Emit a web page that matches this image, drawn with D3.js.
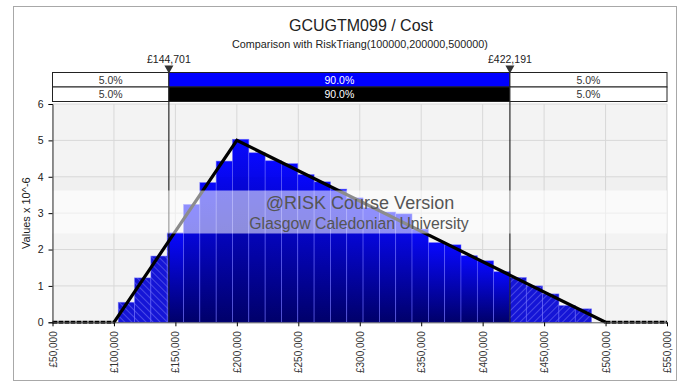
<!DOCTYPE html>
<html>
<head>
<meta charset="utf-8">
<script src="https://cdn.jsdelivr.net/npm/d3@7/dist/d3.min.js"></script>
<style>
  body { margin: 0; background: #fff; }
  svg text { font-family: "Liberation Sans", Arial, sans-serif; fill: #222; }
</style>
</head>
<body>
<script>
// simulated histogram (density x 10^-6), bins start at binStart, width binWidth
var binStart = 103500;
var binWidth = 13280;
var density = [0.55, 1.22, 1.82, 2.46, 3.24, 3.84, 4.43, 5.03, 4.66, 4.44,
               4.36, 4.06, 3.86, 3.66, 3.42, 3.15, 3.03, 2.98, 2.56, 2.19,
               2.13, 1.83, 1.69, 1.39, 1.23, 1.00, 0.78, 0.46, 0.37];

// RiskTriang(100000,200000,500000) pdf, x 10^-6
var triX = [50000, 100000, 200000, 500000, 550000];
var triY = [0, 0, 5, 0, 0];

var pLeft = 144701;
var pRight = 422191;
var simPct = ["5.0%", "90.0%", "5.0%"];
var triPct = ["5.0%", "90.0%", "5.0%"];

var xTicks = [50000, 100000, 150000, 200000, 250000, 300000, 350000, 400000, 450000, 500000, 550000];
var yTicks = [0, 1, 2, 3, 4, 5, 6];

var W = 682, H = 392;
var pL = 52.5, pR = 667, pT = 104, pB = 322.3;

var svg = d3.select("body").append("svg")
    .attr("width", W)
    .attr("height", H);

var x = d3.scaleLinear().domain([50000, 550000]).range([pL, pR]);
var y = d3.scaleLinear().domain([0, 6]).range([pB, pT]);
var fmt = function(v) { return "£" + d3.format(",")(v); };

// frame
svg.append("rect")
    .attr("x", 13.5).attr("y", 6.5)
    .attr("width", 663).attr("height", 374)
    .attr("fill", "#fff")
    .attr("stroke", "#a8a8a8");

// titles
svg.append("text")
    .attr("x", 361).attr("y", 31)
    .attr("text-anchor", "middle")
    .style("font-size", "16px")
    .text("GCUGTM099 / Cost");
svg.append("text")
    .attr("x", 360).attr("y", 47.5)
    .attr("text-anchor", "middle")
    .style("font-size", "10.8px")
    .text("Comparison with RiskTriang(100000,200000,500000)");

var defs = svg.append("defs");

var grad = defs.append("linearGradient")
    .attr("id", "barGrad")
    .attr("x1", 0).attr("y1", 0).attr("x2", 0).attr("y2", 1);
grad.append("stop").attr("offset", "0%").attr("stop-color", "#0808ff");
grad.append("stop").attr("offset", "100%").attr("stop-color", "#00006a");

function hatch(id, angle) {
    var p = defs.append("pattern")
        .attr("id", id)
        .attr("patternUnits", "userSpaceOnUse")
        .attr("width", 5).attr("height", 5)
        .attr("patternTransform", "rotate(" + angle + ")");
    p.append("rect").attr("width", 5).attr("height", 5).attr("fill", "#1515d6");
    p.append("line")
        .attr("x1", 0).attr("y1", 0).attr("x2", 0).attr("y2", 5)
        .attr("stroke", "#7a7af5")
        .attr("stroke-width", 1);
}
hatch("hatchL", -45);
hatch("hatchR", 45);

// plot background + grid
svg.append("rect")
    .attr("x", pL).attr("y", pT)
    .attr("width", pR - pL).attr("height", pB - pT)
    .attr("fill", "#f3f3f3");

svg.append("g").selectAll("line")
    .data(xTicks)
    .enter().append("line")
    .attr("x1", function(d) { return x(d); })
    .attr("x2", function(d) { return x(d); })
    .attr("y1", pT).attr("y2", pB)
    .attr("stroke", "#d8d8d8");
svg.append("g").selectAll("line")
    .data(yTicks.slice(1))
    .enter().append("line")
    .attr("x1", pL).attr("x2", pR)
    .attr("y1", function(d) { return y(d); })
    .attr("y2", function(d) { return y(d); })
    .attr("stroke", "#d8d8d8");

// histogram pieces, split at the delimiters
var pieces = [];
density.forEach(function(d, i) {
    var a = binStart + i * binWidth, b = a + binWidth;
    var parts = [[a, Math.min(b, pLeft), "url(#hatchL)"],
                 [Math.max(a, pLeft), Math.min(b, pRight), "url(#barGrad)"],
                 [Math.max(a, pRight), b, "url(#hatchR)"]];
    parts.forEach(function(p) {
        if (p[1] > p[0]) pieces.push({x0: p[0], x1: p[1], v: d, fill: p[2]});
    });
});

svg.append("g").selectAll("rect")
    .data(pieces)
    .enter().append("rect")
    .attr("x", function(d) { return x(d.x0); })
    .attr("width", function(d) { return x(d.x1) - x(d.x0); })
    .attr("y", function(d) { return y(d.v); })
    .attr("height", function(d) { return y(0) - y(d.v); })
    .attr("fill", function(d) { return d.fill; })
    .attr("stroke", "#6a6aff")
    .attr("stroke-opacity", 0.7)
    .attr("stroke-width", 0.7);

// theoretical curve
var tri = triX.map(function(v, i) { return [x(v), y(triY[i])]; });
var line = d3.line();
svg.append("path")
    .attr("d", line(tri.slice(1, 4)))
    .attr("fill", "none")
    .attr("stroke", "#000")
    .attr("stroke-width", 3.2)
    .attr("stroke-linejoin", "miter");
[tri.slice(0, 2), tri.slice(3, 5)].forEach(function(seg) {
    svg.append("path")
        .attr("d", line(seg))
        .attr("fill", "none")
        .attr("stroke", "#000")
        .attr("stroke-width", 3)
        .attr("stroke-dasharray", "5,1");
});

// delimiter lines
[pLeft, pRight].forEach(function(p) {
    svg.append("line")
        .attr("x1", x(p)).attr("x2", x(p))
        .attr("y1", 72.5).attr("y2", pB)
        .attr("stroke", "#000")
        .attr("stroke-width", 1);
});

// watermark band
svg.append("rect")
    .attr("x", pL).attr("y", 177)
    .attr("width", pR - pL).attr("height", 13.5)
    .attr("fill", "#000").attr("opacity", 0.012);
svg.append("rect")
    .attr("x", pL).attr("y", 190.5)
    .attr("width", pR - pL).attr("height", 43)
    .attr("fill", "#fff").attr("opacity", 0.55);
svg.append("text")
    .attr("x", 360).attr("y", 208.5)
    .attr("text-anchor", "middle")
    .style("font-size", "18px")
    .style("fill", "#555")
    .text("@RISK Course Version");
svg.append("text")
    .attr("x", 359).attr("y", 228.5)
    .attr("text-anchor", "middle")
    .style("font-size", "15.8px")
    .style("fill", "#555")
    .text("Glasgow Caledonian University");

// percentile bars
var bounds = [50000, pLeft, pRight, 550000];
function pctRow(y0, labels, midFill) {
    var g = svg.append("g");
    labels.forEach(function(t, i) {
        var x0 = x(bounds[i]), x1 = x(bounds[i + 1]);
        g.append("rect")
            .attr("x", x0).attr("y", y0)
            .attr("width", x1 - x0).attr("height", 14.5)
            .attr("fill", i == 1 ? midFill : "#fff")
            .attr("stroke", "#222")
            .attr("stroke-width", 1);
        g.append("text")
            .attr("x", (x0 + x1) / 2).attr("y", y0 + 11)
            .attr("text-anchor", "middle")
            .style("font-size", "10.5px")
            .style("fill", i == 1 ? "#fff" : "#333")
            .text(t);
    });
}
pctRow(72.5, simPct, "#0000ff");
pctRow(87, triPct, "#000");

// markers + labels
[pLeft, pRight].forEach(function(p) {
    var px = x(p);
    svg.append("path")
        .attr("d", "M" + (px - 4.5) + ",65.5L" + (px + 4.5) + ",65.5L" + px + ",73.5Z")
        .attr("fill", "#333");
    svg.append("text")
        .attr("x", px).attr("y", 62.5)
        .attr("text-anchor", "middle")
        .style("font-size", "10.5px")
        .text(fmt(p));
});

// axes
var yAxis = svg.append("g")
    .attr("transform", "translate(" + pL + ",0)")
    .call(d3.axisLeft(y).tickValues(yTicks).tickFormat(d3.format("d")).tickSize(4).tickPadding(5));
yAxis.select(".domain").attr("stroke", "#333");
yAxis.selectAll("text").style("font-size", "10.5px").style("fill", "#222").style("font-family", "Liberation Sans, Arial");

var xAxis = svg.append("g")
    .attr("transform", "translate(0," + pB + ")")
    .call(d3.axisBottom(x).tickValues(xTicks).tickFormat(fmt).tickSize(4).tickSizeOuter(0));
xAxis.select(".domain").attr("stroke", "#555");
xAxis.selectAll("text")
    .attr("transform", "rotate(-90)")
    .attr("x", -9).attr("y", 0).attr("dy", "0.35em")
    .style("text-anchor", "end")
    .style("font-size", "10px")
    .style("fill", "#333")
    .style("font-family", "Liberation Sans, Arial");

svg.append("text")
    .attr("transform", "translate(30," + (pT + pB) / 2 + ") rotate(-90)")
    .attr("text-anchor", "middle")
    .style("font-size", "11px")
    .text("Values x 10^-6");
</script>
</body>
</html>
